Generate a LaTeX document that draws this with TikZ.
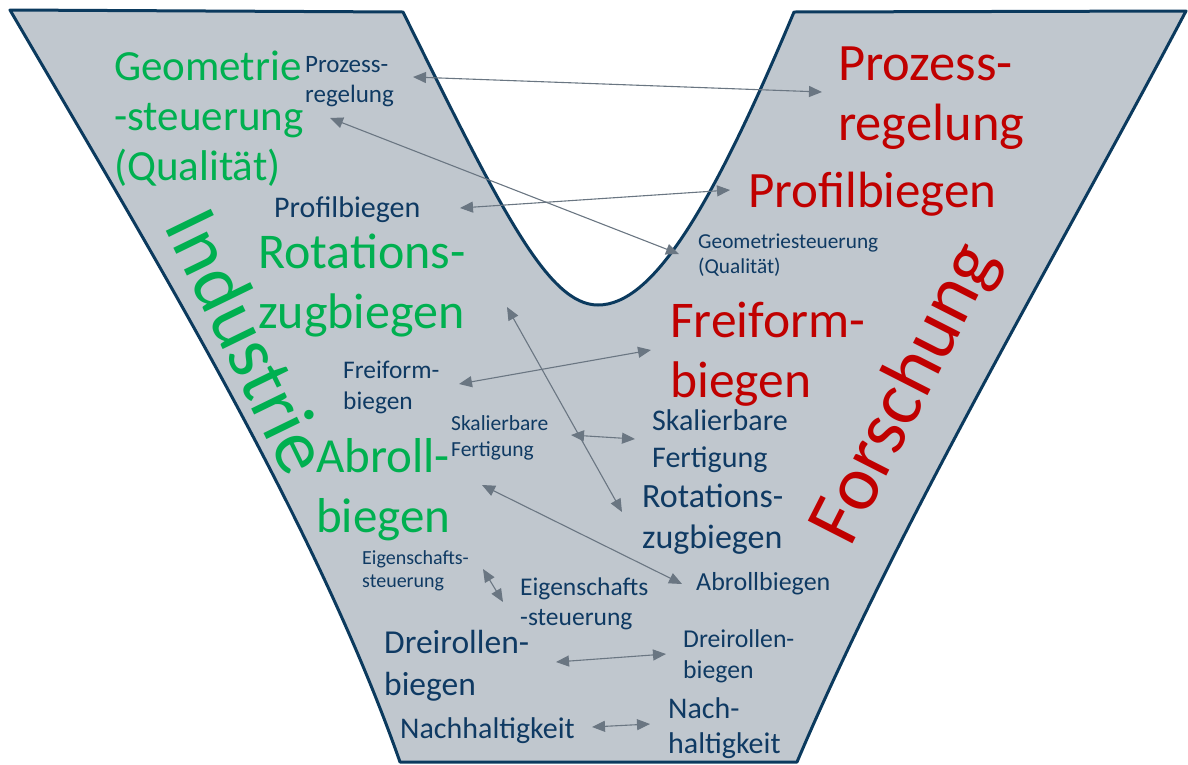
\documentclass[tikz,border=0pt]{standalone}
\usepackage{fontspec}
\setmainfont{Carlito}
\usetikzlibrary{arrows.meta}
\definecolor{vfill}{HTML}{C0C7CE}
\definecolor{vline}{HTML}{0B3A5E}
\definecolor{vgreen}{HTML}{00B050}
\definecolor{vred}{HTML}{C00000}
\definecolor{vnavy}{HTML}{0F3A63}
\definecolor{agray}{HTML}{6A7682}
\newcommand{\vfs}[2]{\fontsize{#1}{#2}\selectfont}
\begin{document}
\begin{tikzpicture}[x=1pt,y=-1pt,
  lbl/.style={anchor=base west, inner sep=0pt, align=left},
  gtxt/.style={lbl, text=vgreen},
  rtxt/.style={lbl, text=vred},
  ntxt/.style={lbl, text=vnavy},
  conn/.style={draw=agray, line width=1.1pt,
    {Triangle[length=13pt,width=11pt]}-{Triangle[length=13pt,width=11pt]}}]
\useasboundingbox (0,0) rectangle (1188,764);
% V shape
\path[fill=vfill, draw=vline, line width=3pt, line join=round]
  (10,10) -- (403,12)
  .. controls (502,212) and (548,305) .. (598,305)
  .. controls (652,305) and (710,212) .. (794,12)
  -- (1186,11)
  .. controls (1060,250) and (900,520) .. (797,762)
  -- (400,762)
  .. controls (315,520) and (150,250) .. cycle;
% (anchor base west = baseline of the LAST line)
% green (Industrie)
\node[gtxt, font=\vfs{43}{50}] (gGeo) at (114,180) {Geometrie\\-steuerung\\(Qualität)};
\node[gtxt, font=\vfs{50}{60}] (gRot) at (258,328) {Rotations-\\zugbiegen};
\node[gtxt, font=\vfs{49}{60}] (gAbr) at (316,532) {Abroll-\\biegen};
\node[text=vgreen, inner sep=0pt, rotate=-64, font=\vfs{78}{90}] (gInd) at (249,341) {Industrie};
% red (Forschung)
\node[rtxt, font=\vfs{52.5}{60}] (rPro) at (838,140) {Prozess-\\regelung};
\node[rtxt, font=\vfs{51}{60}] (rPrb) at (748,207) {Profilbiegen};
\node[rtxt, font=\vfs{51.5}{60}] (rFre) at (670,397) {Freiform-\\biegen};
\node[text=vred, inner sep=0pt, rotate=63, font=\vfs{78}{90}] (rFor) at (906,394) {Forschung};
% navy labels
\node[ntxt, font=\vfs{25}{30}] (nPro) at (305,102) {Prozess-\\regelung};
\node[ntxt, font=\vfs{30}{36}] (nPrb) at (274,217) {Profilbiegen};
\node[ntxt, font=\vfs{21.3}{25.5}] (nGeo) at (698,273.5) {Geometriesteuerung\\(Qualität)};
\node[ntxt, font=\vfs{25.4}{31}] (nFre) at (343,409) {Freiform-\\biegen};
\node[ntxt, font=\vfs{21.5}{26}] (nSka) at (451,456) {Skalierbare\\Fertigung};
\node[ntxt, font=\vfs{30}{37}] (nSkb) at (652,467) {Skalierbare\\Fertigung};
\node[ntxt, font=\vfs{34}{41}] (nRot) at (642,548) {Rotations-\\zugbiegen};
\node[ntxt, font=\vfs{20}{23.5}] (nEig) at (362,587.5) {Eigenschafts-\\steuerung};
\node[ntxt, font=\vfs{25.5}{30.5}] (nEib) at (520,625.5) {Eigenschafts\\-steuerung};
\node[ntxt, font=\vfs{26}{31}] (nAbr) at (696,590) {Abrollbiegen};
\node[ntxt, font=\vfs{33.5}{42}] (nDre) at (384,695) {Dreirollen-\\biegen};
\node[ntxt, font=\vfs{25.7}{31}] (nDrb) at (683,678) {Dreirollen-\\biegen};
\node[ntxt, font=\vfs{30}{36}] (nNac) at (400,738) {Nachhaltigkeit};
\node[ntxt, font=\vfs{30}{35.5}] (nNab) at (668,753.5) {Nach-\\haltigkeit};
% connector end points
\coordinate (a1) at (413,77);  \coordinate (b1) at (822,92);
\coordinate (a2) at (330,118); \coordinate (b2) at (679,254);
\coordinate (a3) at (460,208); \coordinate (b3) at (730,190);
\coordinate (a4) at (507,307); \coordinate (b4) at (622,512);
\coordinate (a5) at (459,384); \coordinate (b5) at (651,350);
\coordinate (a6) at (571,435); \coordinate (b6) at (635,439);
\coordinate (a7) at (482,485); \coordinate (b7) at (682,584);
\coordinate (a8) at (483,569); \coordinate (b8) at (503,602);
\coordinate (a9) at (556,662); \coordinate (b9) at (666,654);
\coordinate (a10) at (592,727); \coordinate (b10) at (650,724);
\foreach \i in {1,...,10} { \draw[conn] (a\i) -- (b\i); }
\end{tikzpicture}
\end{document}
